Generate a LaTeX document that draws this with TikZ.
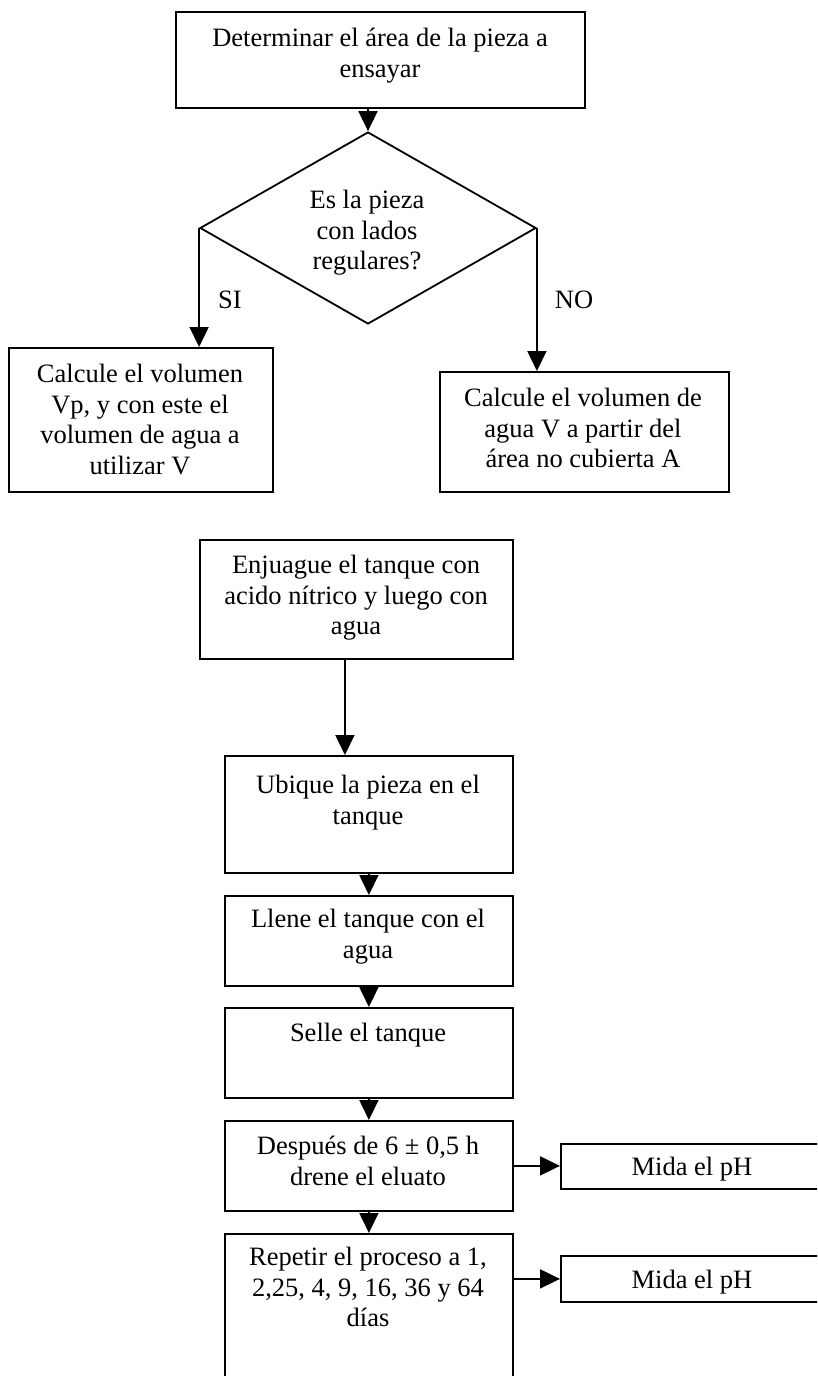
\documentclass[tikz,border=0pt]{standalone}
\usepackage{fontspec}
\setmainfont{Liberation Serif}
\usetikzlibrary{arrows.meta,shapes.geometric}
\begin{document}
\begin{tikzpicture}[x=1pt,y=-1pt,
  box/.style={draw,line width=1.8pt,rectangle,inner sep=0pt,anchor=north west},
  txt/.style={anchor=north,align=center,inner sep=0pt,font=\fontsize{26.5}{30.5}\selectfont},
  lbl/.style={anchor=base,inner sep=0pt,font=\fontsize{26.5}{30.5}\selectfont},
  arr/.style={line width=1.8pt,-{Triangle[width=19pt,length=20pt]}}]
\useasboundingbox (0,0) rectangle (817,1376);
\clip (0,0) rectangle (817,1376);
\fill[white] (0,0) rectangle (817,1376);

% boxes
\node[box,minimum width=409pt,minimum height=96pt] (b1) at (175,11) {};
\node[draw,diamond,line width=1.8pt,minimum width=336pt,minimum height=192pt,inner sep=0pt] (d) at (368,228) {};
\node[box,minimum width=264pt,minimum height=144pt] (b2) at (8,347) {};
\node[box,minimum width=289pt,minimum height=120pt] (b3) at (439,371) {};
\node[box,minimum width=313pt,minimum height=119pt] (b4) at (199,539) {};
\node[box,minimum width=288pt,minimum height=117pt] (b5) at (224,755) {};
\node[box,minimum width=288pt,minimum height=90pt] (b6) at (224,895) {};
\node[box,minimum width=288pt,minimum height=90pt] (b7) at (224,1007) {};
\node[box,minimum width=288pt,minimum height=90pt] (b8) at (224,1120) {};
\node[box,minimum width=288pt,minimum height=200pt] (b9) at (224,1233) {};
\node[box,minimum width=300pt,minimum height=45pt] (m1) at (560,1143) {};
\node[box,minimum width=300pt,minimum height=46pt] (m2) at (560,1255) {};

% texts
\node[txt] (t1) at (380,28) {Determinar el área de la pieza a\\ensayar};
\node[txt] (td) at (367,190) {Es la pieza\\con lados\\regulares?};
\node[lbl] (si) at (230,308) {SI};
\node[lbl] (no) at (574,308) {NO};
\node[txt] (t2) at (140,364) {Calcule el volumen\\Vp, y con este el\\volumen de agua a\\utilizar V};
\node[txt] (t3) at (583,388) {Calcule el volumen de\\agua V a partir del\\área no cubierta A};
\node[txt] (t4) at (356,555) {Enjuague el tanque con\\acido nítrico y luego con\\agua};
\node[txt] (t5) at (368,775) {Ubique la pieza en el\\tanque};
\node[txt] (t6) at (368,909) {Llene el tanque con el\\agua};
\node[txt] (t7) at (368,1023) {Selle el tanque};
\node[txt] (t8) at (368,1136) {Después de 6 ± 0,5 h\\drene el eluato};
\node[txt] (t9) at (368,1247) {Repetir el proceso a 1,\\2,25, 4, 9, 16, 36 y 64\\días};
\node[txt] (tm1) at (692,1157) {Mida el pH};
\node[txt] (tm2) at (692,1270) {Mida el pH};

% connectors
\draw[arr] (d.north |- b1.south) -- (d.north);
\draw[arr] (d.west) -- (d.west |- b2.north);
\draw[arr] (d.east) -- (d.east |- b3.north);
\draw[arr] ([xshift=-11.5pt]b4.south) -- ([xshift=-11.5pt]b4.south |- b5.north);
\draw[arr] (b5.south) -- (b6.north);
\draw[arr] (b6.south) -- (b7.north);
\draw[arr] (b7.south) -- (b8.north);
\draw[arr] (b8.south) -- (b9.north);
\draw[arr] (b8.east) -- (b8.east -| m1.west);
\draw[arr] (b9.north east |- m2.west) -- (m2.west);
\end{tikzpicture}
\end{document}
